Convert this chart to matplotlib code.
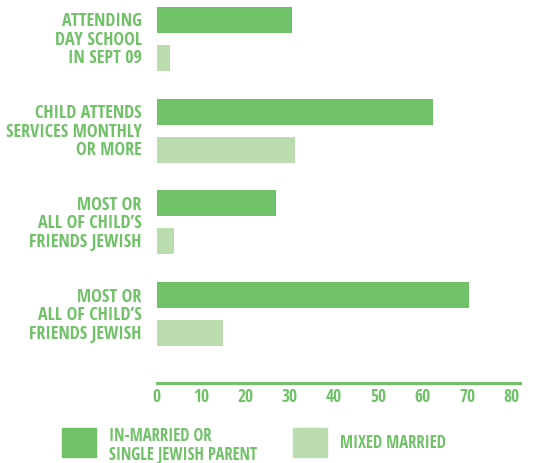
import matplotlib
matplotlib.use("Agg")
import matplotlib.pyplot as plt

# Data
categories = [
    "ATTENDING\nDAY SCHOOL\nIN SEPT 09",
    "CHILD ATTENDS\nSERVICES MONTHLY\nOR MORE",
    "MOST OR\nALL OF CHILD\u2019S\nFRIENDS JEWISH",
    "MOST OR\nALL OF CHILD\u2019S\nFRIENDS JEWISH",
]
in_married = [30.6, 62.4, 26.8, 70.5]
mixed_married = [2.9, 31.3, 3.8, 14.9]
series_names = ["IN-MARRIED OR\nSINGLE JEWISH PARENT", "MIXED MARRIED"]
x_ticks = [0, 10, 20, 30, 40, 50, 60, 70, 80]

DARK = "#70c167"
LIGHT = "#badcae"

plt.rcParams["font.family"] = ["Open Sans Condensed", "DejaVu Sans"]
plt.rcParams["font.stretch"] = "condensed"
plt.rcParams["font.weight"] = "bold"

W, H = 554, 464
fig = plt.figure(figsize=(W / 100, H / 100), dpi=100)
ax = fig.add_axes([156.7 / W, (H - 384) / H, 363.6 / W, 384 / H])

idx = list(range(len(categories)))
off, bh = 0.207, 0.283
ax.barh([i - off for i in idx], in_married, height=bh, color=DARK)
ax.barh([i + off for i in idx], mixed_married, height=bh, color=LIGHT)

ax.set_xlim(0, 82)
ax.set_ylim(3.749, -0.434)
for s in ["top", "right", "left"]:
    ax.spines[s].set_visible(False)
ax.spines["bottom"].set_color(DARK)
ax.spines["bottom"].set_linewidth(2.2)
ax.set_yticks([])
ax.set_xticks(x_ticks)
ax.set_xticklabels([str(t) for t in x_ticks], fontsize=12.5, fontweight="bold", color=DARK)
ax.tick_params(axis="x", length=0, pad=3)

# Category labels, right-aligned left of the bars
for i, lab in enumerate(categories):
    ax.text(-15.0 / 4.434, i, lab, ha="right", va="center", fontsize=13,
            fontweight="bold", color=DARK, linespacing=1.03, transform=ax.transData)

# Legend drawn as patches and text in figure pixels
def fx(px):
    return px / W

def fy(py):
    return (H - py) / H

fig.patches.append(plt.Rectangle((fx(62), fy(458)), 34 / W, 29 / H, color=DARK,
                                 transform=fig.transFigure))
fig.patches.append(plt.Rectangle((fx(293), fy(458)), 34 / W, 29 / H, color=LIGHT,
                                 transform=fig.transFigure))
fig.text(fx(109), fy(445.5), series_names[0], ha="left", va="center", fontsize=12,
         fontweight="bold", color=DARK, linespacing=1.05)
fig.text(fx(340), fy(443.5), series_names[1], ha="left", va="center", fontsize=12,
         fontweight="bold", color=DARK)

fig.savefig("out.png", dpi=100)
